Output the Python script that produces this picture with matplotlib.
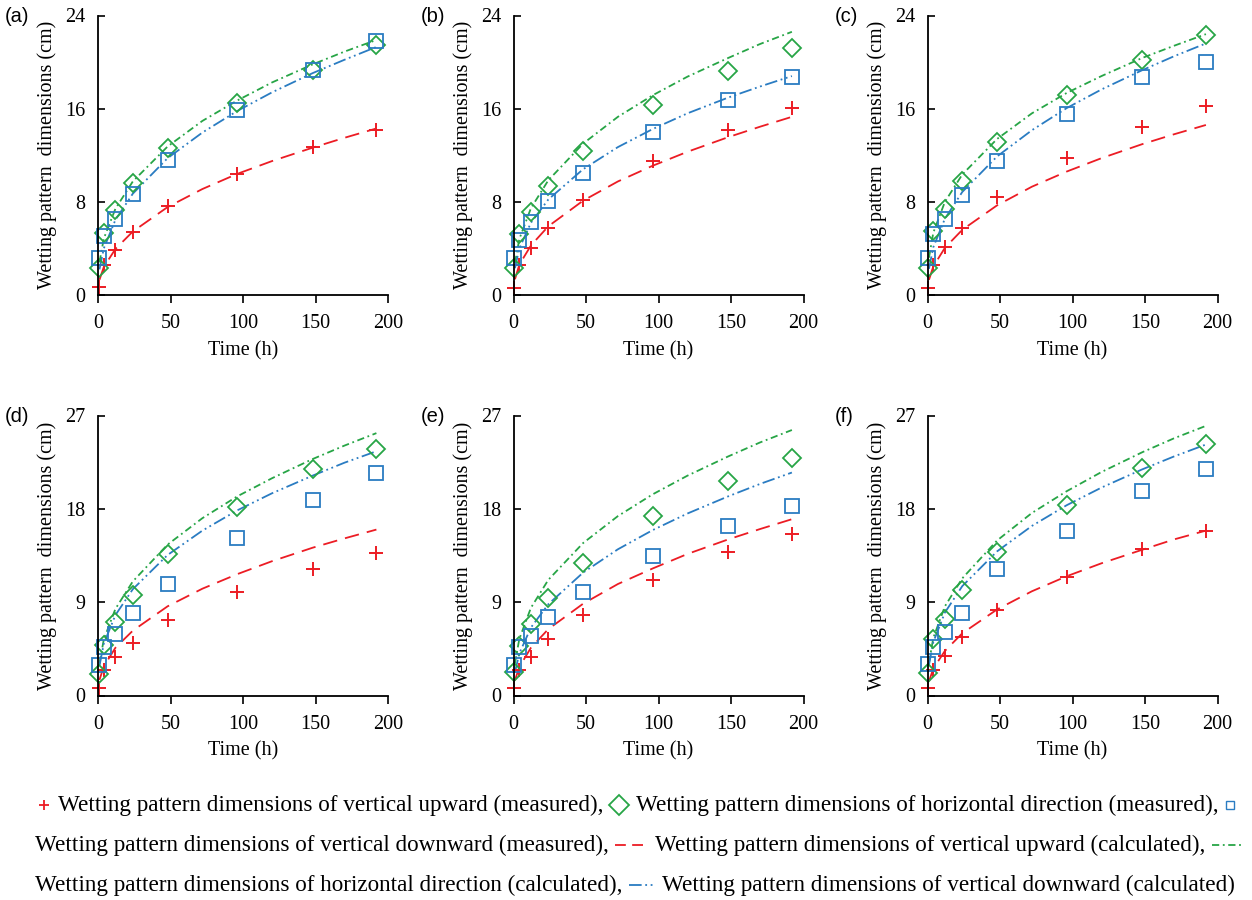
import matplotlib
matplotlib.use("Agg")
import matplotlib.pyplot as plt
from matplotlib.lines import Line2D

# measured times (h) and times at which the calculated curves were read
t_meas = [0.5, 4, 12, 24, 48, 96, 148, 192]
t_calc = [1, 4, 12, 24, 48, 72, 96, 120, 148, 170, 192]

panel_labels = ["(a)", "(b)", "(c)", "(d)", "(e)", "(f)"]
y_max = [24, 24, 24, 27, 27, 27]
y_ticks = [[0, 8, 16, 24]] * 3 + [[0, 9, 18, 27]] * 3
x_ticks = [0, 50, 100, 150, 200]

# measured, one row per panel (a)..(f)
up_meas = [
    [0.7, 2.6, 3.9, 5.45, 7.65, 10.4, 12.7, 14.2],
    [0.6, 2.6, 4.0, 5.75, 8.2, 11.5, 14.2, 16.1],
    [0.6, 2.6, 4.1, 5.75, 8.4, 11.8, 14.4, 16.2],
    [0.7, 2.5, 3.7, 5.1, 7.3, 10.0, 12.2, 13.7],
    [0.7, 2.5, 3.7, 5.45, 7.75, 11.15, 13.8, 15.6],
    [0.7, 2.5, 3.85, 5.6, 8.25, 11.4, 14.1, 15.9],
]
hor_meas = [
    [2.3, 5.3, 7.3, 9.6, 12.6, 16.5, 19.3, 21.5],
    [2.3, 5.2, 7.1, 9.4, 12.4, 16.3, 19.2, 21.2],
    [2.3, 5.5, 7.4, 9.8, 13.1, 17.15, 20.2, 22.3],
    [2.1, 4.9, 7.1, 9.7, 13.6, 18.2, 21.8, 23.8],
    [2.25, 4.8, 6.9, 9.45, 12.8, 17.3, 20.7, 22.9],
    [2.2, 5.45, 7.4, 10.2, 13.8, 18.4, 21.9, 24.3],
]
down_meas = [
    [3.2, 5.1, 6.5, 8.7, 11.6, 15.9, 19.3, 21.8],
    [3.2, 4.7, 6.3, 8.05, 10.5, 14.0, 16.75, 18.7],
    [3.2, 5.2, 6.5, 8.55, 11.5, 15.5, 18.7, 20.0],
    [2.95, 4.65, 5.9, 7.95, 10.8, 15.2, 18.9, 21.5],
    [2.9, 4.65, 5.75, 7.55, 10.0, 13.45, 16.3, 18.3],
    [3.05, 4.65, 6.1, 8.0, 12.2, 15.9, 19.7, 21.8],
]

# calculated
up_calc = [
    [1.3, 2.4, 3.95, 5.45, 7.55, 9.1, 10.4, 11.5, 12.65, 13.5, 14.3],
    [1.35, 2.6, 4.25, 5.9, 8.1, 9.75, 11.1, 12.3, 13.55, 14.45, 15.3],
    [1.3, 2.45, 4.05, 5.6, 7.7, 9.3, 10.6, 11.75, 12.95, 13.8, 14.6],
    [1.5, 2.8, 4.6, 6.25, 8.6, 10.3, 11.7, 12.95, 14.25, 15.15, 16.0],
    [1.45, 2.75, 4.6, 6.4, 8.85, 10.75, 12.25, 13.65, 15.05, 16.05, 17.0],
    [1.35, 2.6, 4.3, 6.0, 8.3, 10.05, 11.5, 12.75, 14.05, 15.05, 15.9],
]
hor_calc = [
    [2.8, 4.85, 7.4, 9.75, 12.75, 14.95, 16.7, 18.25, 19.8, 20.9, 21.9],
    [2.75, 4.8, 7.45, 9.85, 13.0, 15.3, 17.15, 18.75, 20.35, 21.55, 22.6],
    [3.2, 5.35, 8.0, 10.35, 13.4, 15.6, 17.35, 18.8, 20.35, 21.4, 22.4],
    [3.1, 5.4, 8.35, 11.0, 14.55, 17.1, 19.2, 20.95, 22.8, 24.1, 25.3],
    [3.1, 5.45, 8.45, 11.15, 14.7, 17.3, 19.4, 21.2, 23.05, 24.4, 25.6],
    [3.15, 5.55, 8.6, 11.3, 14.95, 17.6, 19.7, 21.55, 23.45, 24.8, 26.0],
]
down_calc = [
    [2.2, 4.0, 6.45, 8.7, 11.75, 13.95, 15.8, 17.4, 19.05, 20.2, 21.3],
    [2.3, 4.0, 6.2, 8.2, 10.8, 12.7, 14.25, 15.6, 16.95, 17.9, 18.8],
    [2.25, 4.1, 6.55, 8.85, 11.9, 14.15, 16.05, 17.65, 19.3, 20.5, 21.6],
    [2.85, 5.0, 7.75, 10.25, 13.55, 15.9, 17.85, 19.5, 21.2, 22.45, 23.55],
    [2.25, 4.05, 6.55, 8.8, 11.85, 14.1, 15.95, 17.55, 19.2, 20.4, 21.5],
    [2.95, 5.15, 8.0, 10.55, 13.9, 16.35, 18.35, 20.05, 21.8, 23.05, 24.2],
]

RED = "#ec1c24"
GREEN = "#27a546"
BLUE = "#2a7cc2"
ls_red = (0, (8, 4.5))
ls_green = (0, (4, 2, 1, 2))
ls_blue = (0, (7, 2, 1, 2, 1, 2))

SERIF = "Liberation Serif"
plt.rcParams["font.family"] = SERIF
plt.rcParams["font.size"] = 14.5

W, H = 1252, 900
fig = plt.figure(figsize=(W / 100, H / 100), dpi=100)

lefts = [98, 513.5, 927.5]
rows = [(295, 15.5), (695.5, 415.5)]  # (y of zero, y of top) in px from top
ax_w = 290

for i in range(6):
    r, c = divmod(i, 3)
    y0, y1 = rows[r]
    ax = fig.add_axes([lefts[c] / W, 1 - y0 / H, ax_w / W, (y0 - y1) / H])

    ax.plot(t_calc, up_calc[i], color=RED, ls=ls_red, lw=1.3)
    ax.plot(t_calc, hor_calc[i], color=GREEN, ls=ls_green, lw=1.3)
    ax.plot(t_calc, down_calc[i], color=BLUE, ls=ls_blue, lw=1.3)
    ax.plot(t_meas, up_meas[i], ls="none", marker="+", ms=10, mew=1.4,
            color=RED, clip_on=False)
    ax.plot(t_meas, hor_meas[i], ls="none", marker="D", ms=9.5, mew=1.3,
            mfc="none", mec=GREEN, clip_on=False)
    ax.plot(t_meas, down_meas[i], ls="none", marker="s", ms=9.5, mew=1.3,
            mfc="none", mec=BLUE, clip_on=False)

    ax.set_xlim(0, 200)
    ax.set_ylim(0, y_max[i])
    ax.set_xticks(x_ticks)
    ax.set_yticks(y_ticks[i])
    for s in ["top", "right"]:
        ax.spines[s].set_visible(False)
    for s in ["left", "bottom"]:
        ax.spines[s].set_linewidth(1.3)
    ax.tick_params(axis="x", direction="out", length=6, width=1.2, pad=8)
    ax.tick_params(axis="y", direction="in", length=5, width=1.2, pad=9)

    ax.set_xlabel("Time (h)")
    ax.xaxis.set_label_coords(0.5, -0.165)
    ax.set_ylabel("Wetting pattern  dimensions (cm)")
    ax.yaxis.set_label_coords(-0.14, 0.5)

    fig.text((lefts[c] - 93) / W, 1 - (y1 + 1) / H, panel_labels[i],
             family="Liberation Sans", fontsize=14.5, va="center", ha="left")

# legend: text lines with inline keys, laid out left to right
fig.canvas.draw()
renderer = fig.canvas.get_renderer()
LEG_FS = 16.7


def draw_key(kind, x, w, y):
    yf = 1 - y / H
    if kind in ("+", "D", "s"):
        style = {"+": dict(marker="+", color=RED, ms=7, mew=1.3),
                 "D": dict(marker="D", mfc="none", mec=GREEN, ms=10, mew=1.3),
                 "s": dict(marker="s", mfc="none", mec=BLUE, ms=5.5, mew=1.0)}[kind]
        fig.add_artist(Line2D([(x + w / 2) / W], [yf], ls="none",
                              transform=fig.transFigure, **style))
    else:
        color, ls = {"red": (RED, (0, (6, 3.5))), "green": (GREEN, ls_green),
                     "blue": (BLUE, ls_blue)}[kind]
        fig.add_artist(Line2D([x / W, (x + w) / W], [yf, yf], color=color,
                              ls=ls, lw=1.3, transform=fig.transFigure))


legend_rows = [
    (805, 38, [("+", 12), "Wetting pattern dimensions of vertical upward (measured),",
               ("D", 18), "Wetting pattern dimensions of horizontal direction (measured),",
               ("s", 12)]),
    (845, 35, ["Wetting pattern dimensions of vertical downward (measured),",
               ("red", 32.5), "Wetting pattern dimensions of vertical upward (calculated),",
               ("green", 32)]),
    (885, 35, ["Wetting pattern dimensions of horizontal direction (calculated),",
               ("blue", 26), "Wetting pattern dimensions of vertical downward (calculated)"]),
]

for y, x, items in legend_rows:
    for it in items:
        if isinstance(it, str):
            t = fig.text(x / W, 1 - y / H, it, fontsize=LEG_FS, ha="left",
                         va="center")
            x += t.get_window_extent(renderer).width + 6
        else:
            kind, w = it
            draw_key(kind, x, w, y)
            x += w + 8

fig.savefig("out.png", dpi=100)
